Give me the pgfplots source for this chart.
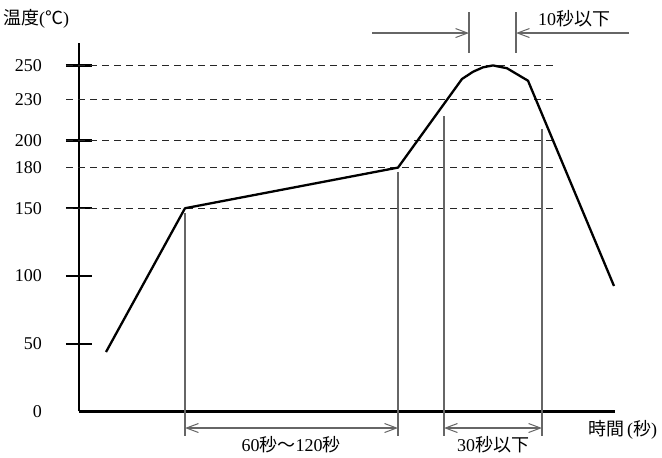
\documentclass[border=0pt]{standalone}
\usepackage{fontspec}
\setmainfont{Liberation Serif}
\newfontfamily\jp{Noto Sans CJK JP}
\usepackage{pgfplots}
\usepackage{pgfplotstable}
\pgfplotsset{compat=1.18}
\usetikzlibrary{arrows.meta}

% reflow profile, x in arbitrary units (no scale on the time axis)
\pgfplotstableread{
x y
27 43.9
106 150
319 180
383 245.4
394 250.7
404 254
414 255.4
428 253.3
449 244.1
535 92.6
}\profile

\begin{document}
\fontsize{18bp}{20bp}\selectfont
\begin{tikzpicture}[x=1bp,y=1bp,
  guide/.style={black!85, line width=1bp, dash pattern=on 7bp off 5bp},
  dim/.style={black!60, line width=1.1bp},
  barb/.tip={Straight Barb[length=12bp,width=9bp,line width=1bp]}]
\path[use as bounding box] (0,0) rectangle (662,458);
\begin{axis}[
    at={(79bp,46.5bp)}, anchor=south west,
    x=1bp, y=1.355bp,
    xmin=0, xmax=536, ymin=0, ymax=272,
    axis lines=left,
    axis line style={-, line width=2.2bp, black},
    clip=false,
    xtick=\empty,
    ytick={50,100,150,200,255.4},
    yticklabels={50,100,150,200,250},
    extra y ticks={0,180,230},
    extra y tick labels={0,180,230},
    extra y tick style={tick style={draw=none}},
    tick align=center,
    major tick length=26bp,
    tick style={line width=2.2bp, black},
    /pgf/number format/assume math mode=true,
    yticklabel style={anchor=east, inner sep=0pt, xshift=-24bp, font=\fontsize{18bp}{20bp}\selectfont},
]
\draw[guide] (axis cs:-13,255.4) -- (axis cs:479,255.4);
\draw[guide] (axis cs:-13,230) -- (axis cs:479,230);
\draw[guide] (axis cs:-13,200) -- (axis cs:479,200);
\draw[guide] (axis cs:-13,180) -- (axis cs:479,180);
\draw[guide] (axis cs:-13,150) -- (axis cs:479,150);

\draw[dim] (axis cs:106,146.5) -- (axis cs:106,-18.1);
\draw[dim] (axis cs:319,176.8) -- (axis cs:319,-18.1);
\draw[dim] (axis cs:365,218) -- (axis cs:365,-18.1);
\draw[dim] (axis cs:463,208.5) -- (axis cs:463,-18.1);
\draw[dim] (axis cs:390,294.8) -- (axis cs:390,264.5);
\draw[dim] (axis cs:437,294.8) -- (axis cs:437,264.5);

\draw[dim, barb-barb] (axis cs:106,-12.2) -- (axis cs:319,-12.2);
\draw[dim, barb-barb] (axis cs:365,-12.2) -- (axis cs:463,-12.2);
\draw[dim, -barb] (axis cs:293,279.3) -- (axis cs:390,279.3);
\draw[dim, -barb] (axis cs:550,279.3) -- (axis cs:437,279.3);

\addplot[black, line width=2.3bp, line join=round, mark=none] table[x=x, y=y] {\profile};
\end{axis}

\node[anchor=west, inner sep=0pt] at (3,439) {{\jp 温度}({\jp ℃})};
\node[anchor=west, inner sep=0pt] at (538,439) {10{\jp 秒以下}};
\node[inner sep=0pt] at (291,13) {60{\jp 秒～}120{\jp 秒}};
\node[inner sep=0pt] at (493,13) {30{\jp 秒以下}};
\node[anchor=west, inner sep=0pt] at (588,28) {{\jp 時間}\,({\jp 秒})};
\end{tikzpicture}
\end{document}
